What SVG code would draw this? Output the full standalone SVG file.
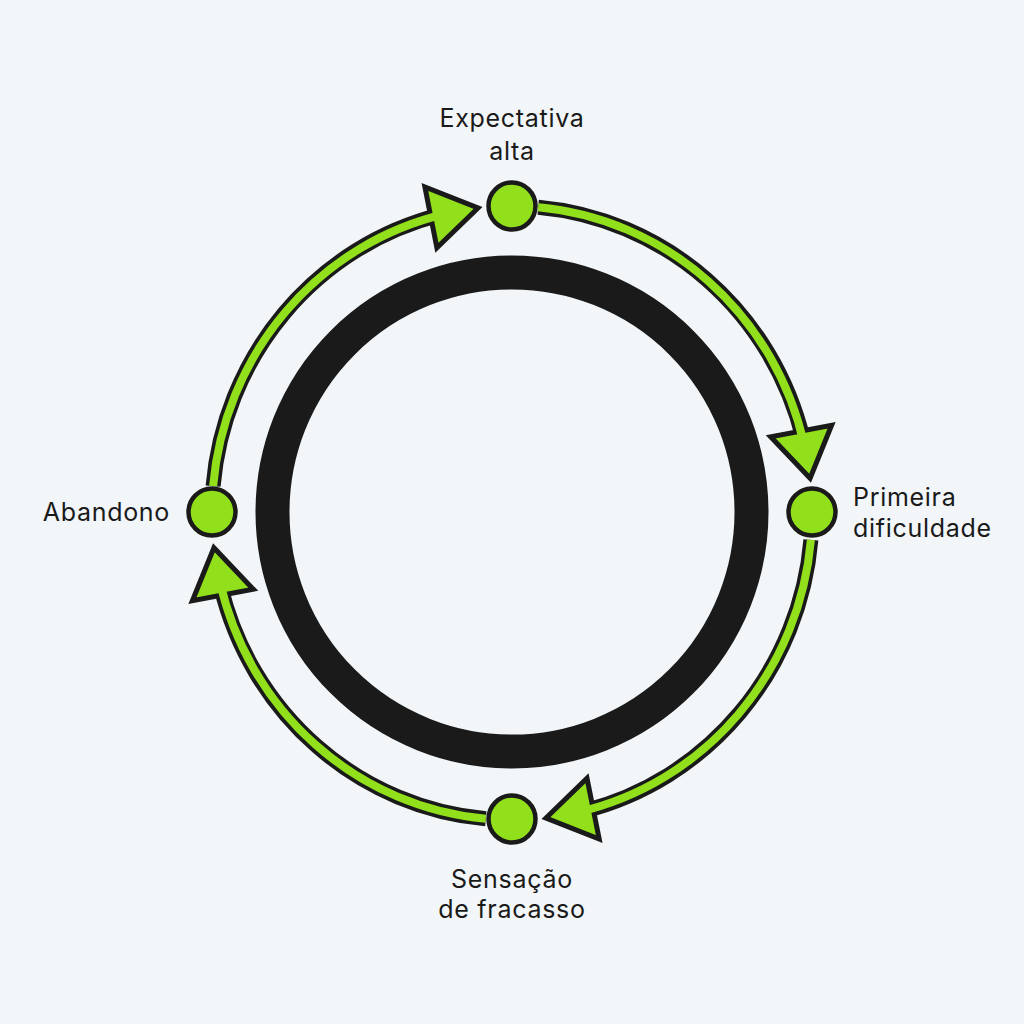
<svg xmlns="http://www.w3.org/2000/svg" width="1024" height="1024" viewBox="0 0 1024 1024">
<style>
.bg{fill:#f2f6f8}
.ring{fill:none;stroke:#1a1a1a;stroke-width:34}
.shaft-o{fill:none;stroke:#1a1a1a;stroke-width:15}
.shaft-i{fill:none;stroke:#92e01c;stroke-width:8}
.head{fill:#92e01c;stroke:#1a1a1a;stroke-width:5;stroke-linejoin:miter}
.node{fill:#92e01c;stroke:#1a1a1a;stroke-width:4.5}
.lbl{font-family:Inter,"Noto Sans","Liberation Sans",sans-serif;font-size:25px;letter-spacing:0.7px;fill:#1a1a1a}
</style>
<rect class="bg" x="0" y="0" width="1024" height="1024"/>
<circle class="ring" cx="512" cy="512" r="239.5"/>
<g id="connectors">
  <g id="arrow-abandono-expectativa">
    <path class="shaft-o" d="M213.1,486.2 A300,307 0 0 1 439.4,215.1"/>
    <polygon class="head" points="478,208 436.9,247.8 424.9,187"/>
    <path class="shaft-i" d="M213.1,486.2 A300,307 0 0 1 445,214"/>
  </g>
  <g id="arrow-expectativa-primeira">
    <path class="shaft-o" d="M538.2,207.2 A300,307 0 0 1 803.1,438.7"/>
    <polygon class="head" points="810.1,478.2 770.7,436.8 831.6,425.2"/>
    <path class="shaft-i" d="M538.2,207.2 A300,307 0 0 1 804,444"/>
  </g>
  <g id="arrow-primeira-sensacao">
    <path class="shaft-o" d="M810.9,539.8 A300,307 0 0 1 584.6,810.9"/>
    <polygon class="head" points="546,818 587,778.2 599.2,839"/>
    <path class="shaft-i" d="M810.9,539.8 A300,307 0 0 1 579,812"/>
  </g>
  <g id="arrow-sensacao-abandono">
    <path class="shaft-o" d="M485.8,818.8 A300,307 0 0 1 220.9,587.3"/>
    <polygon class="head" points="213.9,547.8 253.3,589.2 192.4,600.8"/>
    <path class="shaft-i" d="M485.8,818.8 A300,307 0 0 1 220,582"/>
  </g>
</g>
<g id="node-expectativa">
  <circle class="node" cx="512" cy="206" r="23.5"/>
  <text class="lbl" x="512" y="127" text-anchor="middle">Expectativa</text>
  <text class="lbl" x="512" y="160" text-anchor="middle">alta</text>
</g>
<g id="node-primeira">
  <circle class="node" cx="812" cy="512" r="23.5"/>
  <text class="lbl" x="853" y="506">Primeira</text>
  <text class="lbl" x="853" y="537">dificuldade</text>
</g>
<g id="node-sensacao">
  <circle class="node" cx="512" cy="819" r="23.5"/>
  <text class="lbl" x="512" y="888" text-anchor="middle">Sensação</text>
  <text class="lbl" x="512" y="918" text-anchor="middle">de fracasso</text>
</g>
<g id="node-abandono">
  <circle class="node" cx="212" cy="512" r="23.5"/>
  <text class="lbl" x="170" y="521" text-anchor="end">Abandono</text>
</g>
</svg>
